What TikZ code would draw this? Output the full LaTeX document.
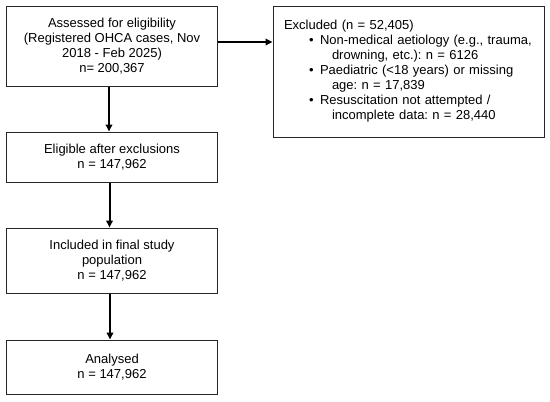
\documentclass[tikz,border=0pt]{standalone}
\usepackage{fontspec}
\setmainfont{Liberation Sans}
\usetikzlibrary{arrows.meta,calc}
\frenchspacing
\begin{document}
\begin{tikzpicture}[x=1bp,y=-1bp,
  box/.style={draw=black!85,line width=1bp,minimum width=210bp,align=center,inner sep=0pt,
    font=\fontsize{13bp}{15bp}\selectfont},
  arr/.style={-{Triangle[length=7bp,width=6.5bp]},line width=2bp,black}]
\useasboundingbox (0,0) rectangle (550,401);
\node[box,minimum height=80bp] (b1) at (112,46) {Assessed for eligibility\\(Registered OHCA cases, Nov\\2018 - Feb 2025)\\n= 200,367};
\node[box,minimum height=50bp] (b2) at (112,157) {Eligible after exclusions\\n = 147,962};
\node[box,minimum height=65bp] (b3) at (112,260.5) {Included in final study\\population\\n = 147,962};
\node[box,minimum height=54bp] (b4) at (112,367) {Analysed\\n = 147,962};
\node[box,minimum width=271bp,minimum height=131bp,text width=249bp,inner xsep=11bp,align=left] (ex) at (408.5,71.5) {Excluded (n = 52,405)\\
\hspace*{25bp}\makebox[11bp][l]{\textbullet}Non-medical aetiology (e.g., trauma,\\
\hspace*{48bp}drowning, etc.): n = 6126\\
\hspace*{25bp}\makebox[11bp][l]{\textbullet}Paediatric (<18 years) or missing\\
\hspace*{48bp}age: n = 17,839\\
\hspace*{25bp}\makebox[11bp][l]{\textbullet}Resuscitation not attempted /\\
\hspace*{48bp}incomplete data: n = 28,440};
\draw[arr] ([xshift=-3bp]b1.south) -- ([xshift=-3bp]b2.north);
\draw[arr] ([xshift=-2.5bp]b2.south) -- ([xshift=-2.5bp]b3.north);
\draw[arr] ([xshift=-2bp]b3.south) -- ([xshift=-2bp]b4.north);
\draw[arr] ([yshift=4bp]b1.east) -- ([yshift=4bp]b1.east -| ex.west);
\end{tikzpicture}
\end{document}
